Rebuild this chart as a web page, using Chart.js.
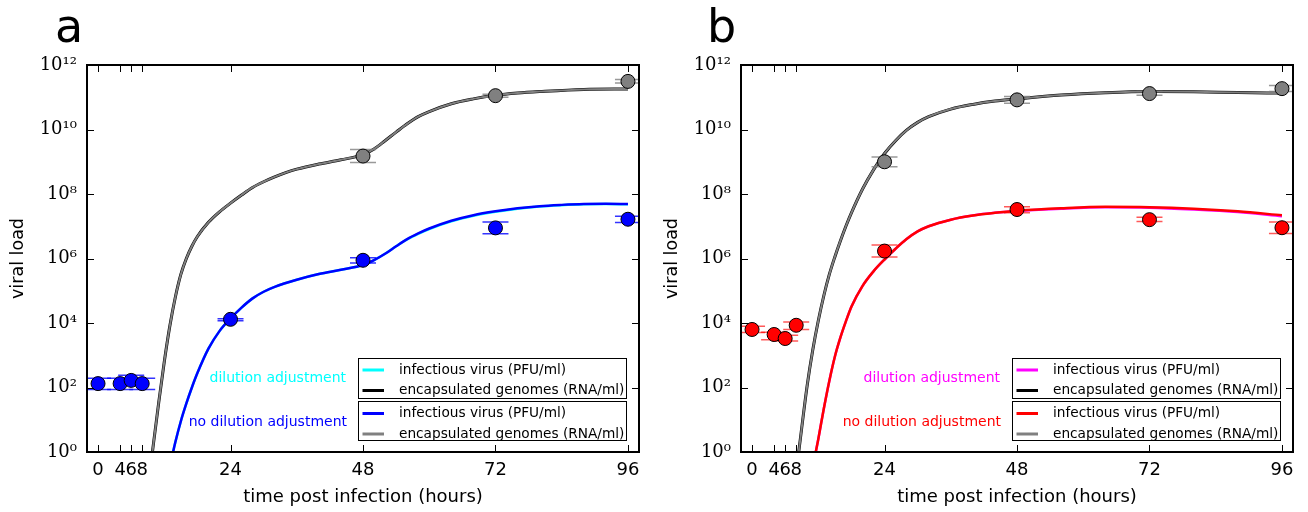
<!DOCTYPE html>
<html>
<head>
<meta charset="utf-8">
<script src="https://cdn.jsdelivr.net/npm/chart.js@4.4.1/dist/chart.umd.min.js"></script>
<style>
  body { margin: 0; background: #fff; }
  .panel { position: absolute; top: 0; width: 654px; height: 512px; }
</style>
</head>
<body>
<div class="panel" style="left:0"><canvas id="chartA" width="654" height="512"></canvas></div>
<div class="panel" style="left:654px"><canvas id="chartB" width="654" height="512"></canvas></div>
<script>
// axis ticks
const xTicks = [0, 4, 6, 8, 24, 48, 72, 96]
const yTicks = [1, 1e2, 1e4, 1e6, 1e8, 1e10, 1e12]

// ---- panel a : measured points ----
const pfuHoursA = [0, 4, 6, 8, 24, 48, 72, 96]
const pfuA = [132, 132, 166, 132, 1.3e4, 8.8e5, 8.9e6, 1.65e7]
const pfuLowA = [87, 87, 115, 87, 1.17e4, 7.2e5, 5.9e6, 1.3e7]
const pfuHighA = [195, 195, 240, 195, 1.35e4, 1.05e6, 1.35e7, 2.05e7]

const rnaHoursA = [48, 72, 96]
const rnaA = [1.5e9, 1.12e11, 3.1e11]
const rnaLowA = [9.5e8, 1.0e11, 2.75e11]
const rnaHighA = [2.4e9, 1.23e11, 3.55e11]

// ---- panel a : model curves ----
const pfuFitHoursA = [13, 14, 15, 16, 17, 18, 20, 22, 24, 26, 28, 30, 32, 36, 40, 44, 48, 50, 52, 54, 56, 58, 60, 64, 68, 72, 76, 80, 84, 88, 92, 96]
const pfuFitA = [0.35, 2, 9, 32, 100, 280, 1600, 5600, 1.38e4, 3e4, 5.8e4, 9.3e4, 1.32e5, 2.2e5, 3.3e5, 4.5e5, 6.3e5, 8.9e5, 1.4e6, 2.4e6, 4e6, 6e6, 8.5e6, 1.48e7, 2.2e7, 2.9e7, 3.6e7, 4.2e7, 4.6e7, 4.9e7, 5e7, 4.9e7]
const pfuFitAdjA = [0.35, 2, 9, 32, 100, 280, 1600, 5600, 1.38e4, 3e4, 5.8e4, 9.3e4, 1.32e5, 2.2e5, 3.3e5, 4.5e5, 6.3e5, 8.9e5, 1.4e6, 2.4e6, 3.9e6, 5.8e6, 8.2e6, 1.42e7, 2.1e7, 2.8e7, 3.5e7, 4.1e7, 4.5e7, 4.8e7, 4.9e7, 4.8e7]
const rnaFitHoursA = [9.6, 10, 11, 12, 13, 14, 15, 16, 17, 18, 20, 22, 24, 26, 28, 30, 32, 34, 36, 40, 44, 48, 50, 52, 54, 56, 58, 60, 64, 68, 72, 76, 80, 88, 96]
const rnaFitA = [0.45, 1.6, 35, 630, 8e3, 6.3e4, 3.2e5, 1e6, 2.4e6, 4.8e6, 1.32e7, 2.8e7, 5.2e7, 9.3e7, 1.6e8, 2.4e8, 3.4e8, 4.6e8, 5.9e8, 8.5e8, 1.15e9, 1.66e9, 2.5e9, 4.5e9, 8.3e9, 1.5e10, 2.5e10, 3.6e10, 6.3e10, 8.9e10, 1.15e11, 1.35e11, 1.5e11, 1.75e11, 1.8e11]
const rnaFitAdjA = rnaFitA

// ---- panel b : measured points ----
const pfuHoursB = [0, 4, 6, 8, 24, 48, 72, 96]
const pfuB = [6.3e3, 4.4e3, 3.3e3, 8.5e3, 1.7e6, 3.3e7, 1.6e7, 9e6]
const pfuLowB = [5.1e3, 3.0e3, 2.75e3, 6.3e3, 1.12e6, 2.6e7, 1.4e7, 6e6]
const pfuHighB = [7.9e3, 5.2e3, 4.2e3, 1.07e4, 2.6e6, 4e7, 1.9e7, 1.35e7]

const rnaHoursB = [24, 48, 72, 96]
const rnaB = [1.0e9, 8.3e10, 1.3e11, 1.85e11]
const rnaLowB = [7e8, 6.5e10, 1.15e11, 1.5e11]
const rnaHighB = [1.4e9, 1.05e11, 1.5e11, 2.3e11]

// ---- panel b : model curves ----
const pfuFitHoursB = [11.2, 12, 13, 14, 15, 16, 17, 18, 20, 22, 24, 26, 28, 30, 32, 36, 40, 44, 48, 56, 64, 72, 80, 88, 96]
const pfuFitB = [0.5, 2.5, 22, 160, 900, 3.5e3, 1.12e4, 3.2e4, 1.4e5, 4e5, 9.3e5, 2e6, 4e6, 6.9e6, 1e7, 1.6e7, 2.15e7, 2.6e7, 3e7, 3.6e7, 4e7, 3.9e7, 3.5e7, 2.9e7, 2.2e7]
const pfuFitAdjB = [0.5, 2.5, 22, 160, 900, 3.5e3, 1.12e4, 3.2e4, 1.4e5, 4e5, 9.3e5, 2e6, 4e6, 6.9e6, 1e7, 1.6e7, 2.15e7, 2.6e7, 2.95e7, 3.5e7, 3.85e7, 3.75e7, 3.3e7, 2.75e7, 2.05e7]
const rnaFitHoursB = [8.1, 9, 10, 11, 12, 13, 14, 15, 16, 17, 18, 20, 22, 24, 26, 28, 30, 32, 36, 40, 44, 48, 56, 64, 72, 80, 88, 96]
const rnaFitB = [0.32, 5.6, 120, 1.45e3, 1.17e4, 7e4, 3.2e5, 1.12e6, 3.5e6, 1e7, 2.6e7, 1.4e8, 5.6e8, 1.8e9, 4.5e9, 9.5e9, 1.66e10, 2.5e10, 4.3e10, 6e10, 7.6e10, 8.9e10, 1.17e11, 1.38e11, 1.5e11, 1.48e11, 1.4e11, 1.35e11]
const rnaFitAdjB = rnaFitB

const SUP = '⁰¹²³⁴⁵⁶⁷⁸⁹'
const FONT = 'DejaVu Sans'

Chart.defaults.font.family = FONT
Chart.defaults.color = '#000'

const pts = (xs, ys) => xs.map((x, i) => ({ x: x, y: ys[i] }))

function curve(label, hours, values, color, width, order, group) {
  return {
    label: label, data: pts(hours, values), borderColor: color, backgroundColor: color,
    borderWidth: width, pointRadius: 0, cubicInterpolationMode: 'monotone',
    order: order, group: group, fill: false
  }
}

function markers(hours, values, low, high, color, capColor, order) {
  return {
    data: pts(hours, values), showLine: false, pointRadius: 7, pointHoverRadius: 7,
    pointBackgroundColor: color, pointBorderColor: '#000', pointBorderWidth: 1,
    errLow: low, errHigh: high, capColor: capColor, order: order
  }
}

// error bars, drawn just before each marker dataset
const errorBars = {
  id: 'errorBars',
  beforeDatasetDraw(chart, args) {
    const ds = chart.data.datasets[args.index]
    if (!ds.errLow) return
    const ctx = chart.ctx
    const ca = chart.chartArea
    const xs = chart.scales.x, ys = chart.scales.y
    ctx.save()
    ctx.beginPath()
    ctx.rect(ca.left, ca.top, ca.width, ca.height)
    ctx.clip()
    ctx.strokeStyle = ds.capColor
    ctx.lineWidth = 1.5
    ds.data.forEach((p, i) => {
      const x = xs.getPixelForValue(p.x)
      const y1 = ys.getPixelForValue(ds.errLow[i])
      const y2 = ys.getPixelForValue(ds.errHigh[i])
      ctx.beginPath()
      ctx.moveTo(x, y1); ctx.lineTo(x, y2)
      ctx.moveTo(x - 13, y1); ctx.lineTo(x + 13, y1)
      ctx.moveTo(x - 13, y2); ctx.lineTo(x + 13, y2)
      ctx.stroke()
    })
    ctx.restore()
  }
}

// frame, inward ticks, legends, notes and panel letter
const decor = {
  id: 'decor',
  afterDraw(chart, args, opts) {
    const ctx = chart.ctx
    const ca = chart.chartArea
    const xs = chart.scales.x, ys = chart.scales.y
    ctx.save()

    // inward ticks on all four sides
    ctx.strokeStyle = '#000'
    ctx.lineWidth = 1
    ctx.beginPath()
    xs.ticks.forEach(t => {
      const px = Math.round(xs.getPixelForValue(t.value)) + 0.5
      ctx.moveTo(px, ca.bottom); ctx.lineTo(px, ca.bottom - 7)
      ctx.moveTo(px, ca.top); ctx.lineTo(px, ca.top + 7)
    })
    ys.ticks.forEach(t => {
      const py = Math.round(ys.getPixelForValue(t.value)) + 0.5
      ctx.moveTo(ca.left, py); ctx.lineTo(ca.left + 7, py)
      ctx.moveTo(ca.right, py); ctx.lineTo(ca.right - 7, py)
    })
    ctx.stroke()

    // legend boxes
    const boxLeft = ca.left + 271
    const boxRight = ca.right - 13
    const groups = [
      { top: ca.bottom - 94.5, bottom: ca.bottom - 55 },
      { top: ca.bottom - 51, bottom: ca.bottom - 12.5 }
    ]
    ctx.font = '13.7px "' + FONT + '"'
    ctx.textBaseline = 'middle'
    ctx.textAlign = 'left'
    groups.forEach((g, gi) => {
      ctx.fillStyle = '#fff'
      ctx.fillRect(boxLeft, g.top, boxRight - boxLeft, g.bottom - g.top)
      const items = chart.data.datasets.filter(d => d.group === gi)
      items.forEach((d, k) => {
        const y = g.top + 12.5 + k * 20.5
        ctx.strokeStyle = d.borderColor
        ctx.lineWidth = 3
        ctx.beginPath()
        ctx.moveTo(boxLeft + 4.5, y); ctx.lineTo(boxLeft + 26, y)
        ctx.stroke()
        ctx.fillStyle = '#000'
        ctx.fillText(d.label, boxLeft + 41, y)
      })
      ctx.strokeStyle = '#000'
      ctx.lineWidth = 1
      ctx.strokeRect(Math.round(boxLeft) + 0.5, Math.round(g.top) + 0.5, Math.round(boxRight - boxLeft), Math.round(g.bottom - g.top))
    })

    // notes
    ctx.font = '14px "' + FONT + '"'
    ctx.textAlign = 'right'
    ctx.fillStyle = opts.noteColors[0]
    ctx.fillText('dilution adjustment', ca.left + 259, ca.bottom - 73.5)
    ctx.fillStyle = opts.noteColors[1]
    ctx.fillText('no dilution adjustment', ca.left + 260, ca.bottom - 30)

    // frame
    ctx.strokeStyle = '#000'
    ctx.lineWidth = 2
    ctx.strokeRect(ca.left, ca.top, ca.width, ca.height)

    // panel letter
    ctx.fillStyle = '#000'
    ctx.textAlign = 'left'
    ctx.textBaseline = 'alphabetic'
    ctx.font = '46px "' + FONT + '"'
    ctx.fillText(opts.letter, opts.letterX, 42)
    ctx.restore()
  }
}

function makeChart(id, letter, letterX, datasets, noteColors) {
  const ctx = document.getElementById(id).getContext('2d')
  return new Chart(ctx, {
    type: 'line',
    data: { datasets: datasets },
    plugins: [errorBars, decor],
    options: {
      responsive: false,
      animation: false,
      devicePixelRatio: 1,
      layout: { padding: { left: 0, right: 15, top: 65, bottom: 0 } },
      plugins: {
        legend: { display: false },
        tooltip: { enabled: false },
        decor: { letter: letter, letterX: letterX, noteColors: noteColors }
      },
      scales: {
        x: {
          type: 'linear', min: -2, max: 98,
          afterBuildTicks: s => { s.ticks = xTicks.map(v => ({ value: v })) },
          afterFit: s => { s.height = 60 },
          grid: { display: false, drawTicks: false },
          border: { display: false },
          ticks: { autoSkip: false, maxRotation: 0, padding: 8, font: { size: 18 }, color: '#000', callback: v => String(v) },
          title: { display: true, text: 'time post infection (hours)', font: { size: 18 }, color: '#000', padding: 4 }
        },
        y: {
          type: 'logarithmic', min: 1, max: 1e12,
          afterBuildTicks: s => { s.ticks = yTicks.map(v => ({ value: v })) },
          afterFit: s => { s.width = 87 },
          grid: { display: false, drawTicks: false },
          border: { display: false },
          ticks: {
            autoSkip: false, padding: 10, font: { size: 18, family: 'DejaVu Serif' }, color: '#000',
            callback: v => '10' + String(Math.round(Math.log10(v))).split('').map(c => SUP[+c]).join('')
          },
          title: { display: true, text: 'viral load', font: { size: 17.5 }, color: '#000', padding: 8 }
        }
      }
    }
  })
}

makeChart('chartA', 'a', 55, [
  markers(pfuHoursA, pfuA, pfuLowA, pfuHighA, '#0000ff', 'rgba(0,0,255,0.8)', 0),
  markers(rnaHoursA, rnaA, rnaLowA, rnaHighA, '#808080', 'rgba(128,128,128,0.8)', 0),
  curve('infectious virus (PFU/ml)', pfuFitHoursA, pfuFitAdjA, '#00ffff', 2.5, 3, 0),
  curve('encapsulated genomes (RNA/ml)', rnaFitHoursA, rnaFitAdjA, '#000000', 3, 3, 0),
  curve('infectious virus (PFU/ml)', pfuFitHoursA, pfuFitA, '#0000ff', 2.5, 2, 1),
  curve('encapsulated genomes (RNA/ml)', rnaFitHoursA, rnaFitA, '#808080', 2, 2, 1)
], ['#00ffff', '#0000ff'])

makeChart('chartB', 'b', 53, [
  markers(pfuHoursB, pfuB, pfuLowB, pfuHighB, '#ff0000', 'rgba(255,0,0,0.65)', 0),
  markers(rnaHoursB, rnaB, rnaLowB, rnaHighB, '#808080', 'rgba(128,128,128,0.8)', 0),
  curve('infectious virus (PFU/ml)', pfuFitHoursB, pfuFitAdjB, '#ff00ff', 2.5, 3, 0),
  curve('encapsulated genomes (RNA/ml)', rnaFitHoursB, rnaFitAdjB, '#000000', 3, 3, 0),
  curve('infectious virus (PFU/ml)', pfuFitHoursB, pfuFitB, '#ff0000', 2.5, 2, 1),
  curve('encapsulated genomes (RNA/ml)', rnaFitHoursB, rnaFitB, '#808080', 2, 2, 1)
], ['#ff00ff', '#ff0000'])
</script>
</body>
</html>
